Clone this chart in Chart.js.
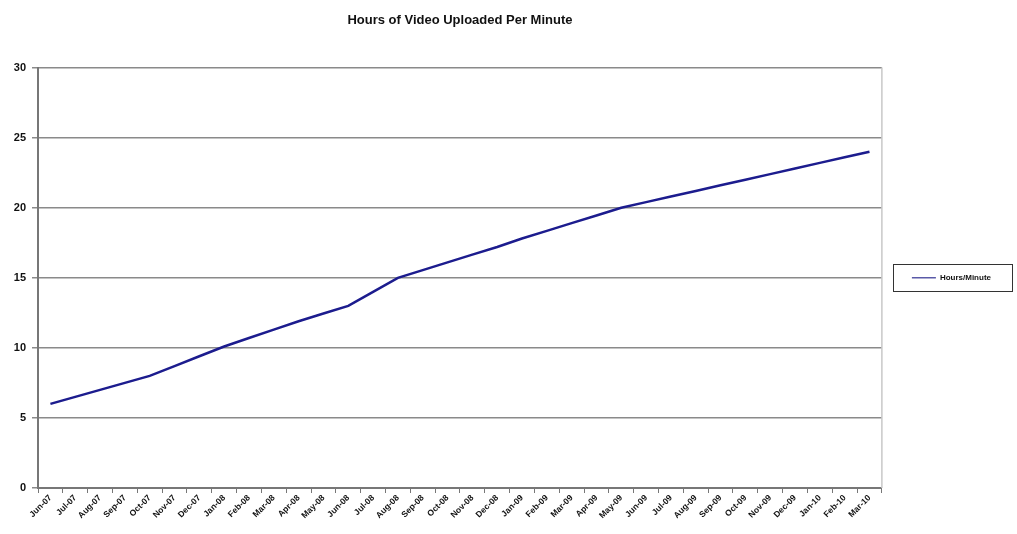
<!DOCTYPE html>
<html>
<head>
<meta charset="utf-8">
<script src="https://cdn.jsdelivr.net/npm/chart.js@4"></script>
<style>
  html, body { margin: 0; padding: 0; background: #fff; }
  #wrap { width: 1017px; height: 534px; }
</style>
</head>
<body>
<div id="wrap"><canvas id="graph" width="1017" height="534"></canvas></div>
<script>
// months on the x axis
var months = ['Jun-07','Jul-07','Aug-07','Sep-07','Oct-07','Nov-07','Dec-07','Jan-08','Feb-08','Mar-08',
	'Apr-08','May-08','Jun-08','Jul-08','Aug-08','Sep-08','Oct-08','Nov-08','Dec-08','Jan-09','Feb-09',
	'Mar-09','Apr-09','May-09','Jun-09','Jul-09','Aug-09','Sep-09','Oct-09','Nov-09','Dec-09','Jan-10',
	'Feb-10','Mar-10'];
// hours of video per minute
var hoursPerMinute = [6, 6.5, 7, 7.5, 8, 8.7, 9.4, 10.1, 10.7, 11.3,
	11.9, 12.45, 13, 14, 15, 15.55, 16.1, 16.65, 17.2, 17.8, 18.35,
	18.9, 19.45, 20, 20.4, 20.8, 21.2, 21.6, 22, 22.4, 22.8, 23.2,
	23.6, 24];
var yTicks = [0, 5, 10, 15, 20, 25, 30];

var fontFamily = 'Arial, "Liberation Sans", sans-serif';

// box round the legend, and the light right edge of the plot
var frame = {
	id: 'frame',
	afterDraw: function(chart) {
		var ctx = chart.ctx, area = chart.chartArea;
		ctx.save();
		ctx.strokeStyle = '#c8c8c8';
		ctx.lineWidth = 1.5;
		ctx.beginPath();
		ctx.moveTo(area.right, area.top);
		ctx.lineTo(area.right, area.bottom);
		ctx.stroke();

		var hit = chart.legend.legendHitBoxes[0];
		if (hit) {
			var cy = Math.round(hit.top + hit.height / 2);
			ctx.strokeStyle = '#333';
			ctx.lineWidth = 1;
			ctx.strokeRect(Math.round(area.right) + 11.5, cy - 13.5, chart.width - Math.round(area.right) - 16, 27);
		}
		ctx.restore();
	}
};

var chart = new Chart(document.getElementById('graph'), {
	type: 'line',
	data: {
		labels: months,
		datasets: [{
			label: 'Hours/Minute',
			data: hoursPerMinute,
			borderColor: '#1c1c8e',
			backgroundColor: '#1c1c8e',
			borderWidth: 2.5,
			pointRadius: 0,
			tension: 0,
			fill: false
		}]
	},
	options: {
		responsive: false,
		animation: false,
		layout: { padding: { top: 0, right: 16, bottom: 0, left: 0 } },
		plugins: {
			title: {
				display: true,
				text: 'Hours of Video Uploaded Per Minute',
				fullSize: false,
				color: '#111',
				font: { family: fontFamily, size: 13, weight: 'bold' },
				padding: { top: 13, bottom: 39 }
			},
			legend: {
				position: 'right',
				fullSize: false,
				labels: {
					usePointStyle: true,
					pointStyle: 'line',
					pointStyleWidth: 24,
					padding: 30,
					color: '#111',
					font: { family: fontFamily, size: 8, weight: 'bold' },
					generateLabels: function(c) {
						var items = Chart.defaults.plugins.legend.labels.generateLabels(c);
						items.forEach(function(it) {
							it.strokeStyle = '#5a5aa8';
							it.lineWidth = 1.5;
						});
						return items;
					}
				}
			},
			tooltip: { enabled: false }
		},
		scales: {
			x: {
				offset: true,
				grid: {
					offset: true,
					drawOnChartArea: false,
					drawTicks: true,
					tickLength: 5,
					color: '#777'
				},
				border: { color: '#777', width: 2 },
				ticks: {
					autoSkip: false,
					minRotation: 45,
					maxRotation: 45,
					padding: 0,
					color: '#111',
					font: { family: fontFamily, size: 8.5, weight: 'bold' }
				},
				afterFit: function(scale) { scale.height = 46; }
			},
			y: {
				min: 0,
				max: 30,
				grid: {
					color: '#8a8a8a',
					lineWidth: 1.5,
					tickLength: 6
				},
				border: { color: '#777', width: 2 },
				afterBuildTicks: function(scale) {
					scale.ticks = yTicks.map(function(v) { return { value: v }; });
				},
				ticks: {
					padding: 6,
					color: '#111',
					font: { family: fontFamily, size: 11, weight: 'bold' }
				},
				afterFit: function(scale) { scale.width = 38; }
			}
		}
	},
	plugins: [frame]
});
</script>
</body>
</html>
